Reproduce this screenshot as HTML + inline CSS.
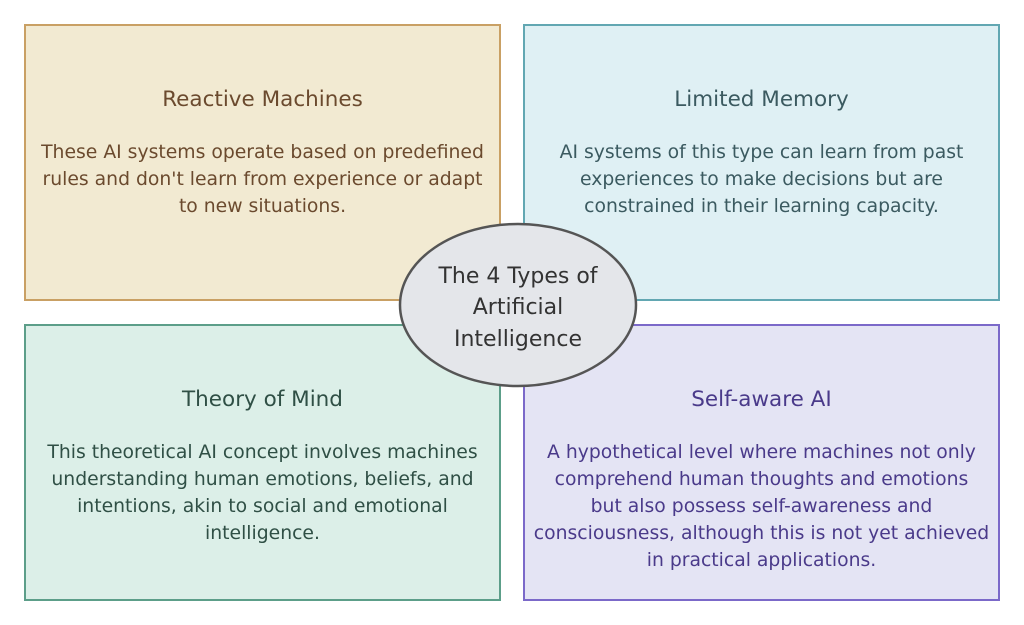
<!DOCTYPE html>
<html><head><meta charset="utf-8"><style>
body{margin:0;width:1024px;height:625px;background:#fff;position:relative;overflow:hidden;font-family:"DejaVu Sans","Liberation Sans",sans-serif}
.b{position:absolute;box-sizing:border-box;border:2px solid;text-align:center}
.t{position:absolute;left:0;right:0;font-size:21.5px}
.d{position:absolute;left:0;right:0;font-size:18.8px;line-height:27px;white-space:nowrap}
</style></head><body>
<div class="b" style="left:24px;top:24px;width:477px;height:277px;background:#f2ead2;border-color:#c9a064;color:#6b4a2e">
<div class="t" style="top:61px">Reactive Machines</div>
<div class="d" style="top:113px">These AI systems operate based on predefined<br>rules and don't learn from experience or adapt<br>to new situations.</div></div>
<div class="b" style="left:523px;top:24px;width:477px;height:277px;background:#dff0f4;border-color:#62a7b2;color:#3b5a60">
<div class="t" style="top:61px">Limited Memory</div>
<div class="d" style="top:113px">AI systems of this type can learn from past<br>experiences to make decisions but are<br>constrained in their learning capacity.</div></div>
<div class="b" style="left:24px;top:324px;width:477px;height:277px;background:#dcefe8;border-color:#5c9e89;color:#2f4f45">
<div class="t" style="top:61px">Theory of Mind</div>
<div class="d" style="top:113px">This theoretical AI concept involves machines<br>understanding human emotions, beliefs, and<br>intentions, akin to social and emotional<br>intelligence.</div></div>
<div class="b" style="left:523px;top:324px;width:477px;height:277px;background:#e4e4f4;border-color:#7b69c9;color:#4a3a8a">
<div class="t" style="top:61px">Self-aware AI</div>
<div class="d" style="top:113px">A hypothetical level where machines not only<br>comprehend human thoughts and emotions<br>but also possess self-awareness and<br>consciousness, although this is not yet achieved<br>in practical applications.</div></div>
<svg style="position:absolute;left:0;top:0" width="1024" height="625">
<ellipse cx="518" cy="305" rx="118" ry="81" fill="#e4e6ea" stroke="#555" stroke-width="2.5"/>
<g font-family="DejaVu Sans,Liberation Sans,sans-serif" font-size="22" fill="#333" text-anchor="middle">
<text x="518" y="283">The 4 Types of</text>
<text x="518" y="314">Artificial</text>
<text x="518" y="346">Intelligence</text></g>
</svg>
</body></html>
